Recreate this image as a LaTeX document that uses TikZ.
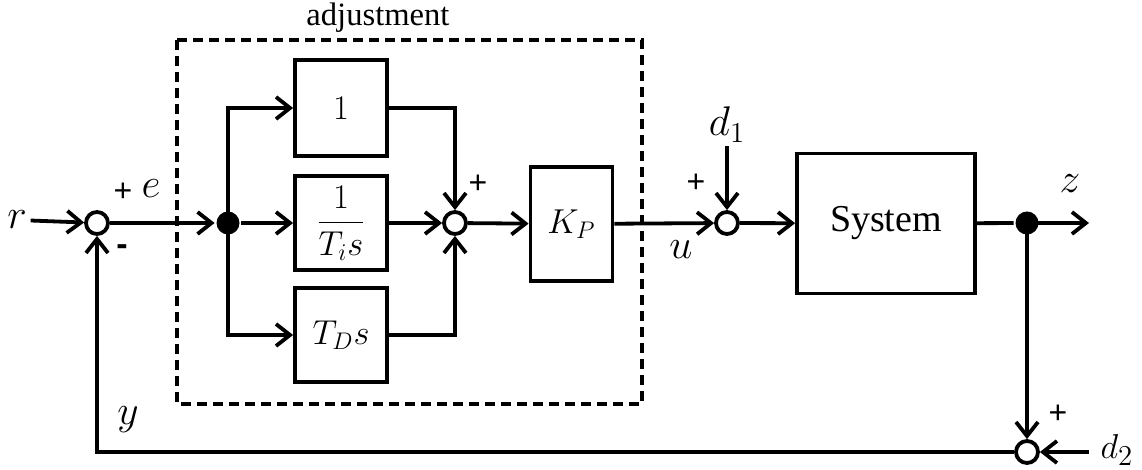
\documentclass[tikz,border=0pt]{standalone}
\usepackage{fontspec}
\usetikzlibrary{arrows.meta}
\newfontfamily\timesf{Liberation Serif}
\newfontfamily\arialf{Liberation Sans}
\begin{document}
\begin{tikzpicture}[x=0.5pt,y=-0.5pt,
  line width=1.9pt,
  arr/.style={-{Straight Barb[length=7pt,width=11pt,line width=1.9pt]}},
  blk/.style={draw,rectangle,inner sep=0pt,font=\LARGE},
  sumc/.style={draw,circle,minimum size=11pt,inner sep=0pt,fill=white},
  dotc/.style={circle,fill=black,minimum size=11.5pt,inner sep=0pt},
  lbl/.style={font=\huge,inner sep=1pt},
  sgn/.style={font=\arialf\fontsize{16}{16}\selectfont,inner sep=0pt},
  dashbox/.style={draw,dash pattern=on 5pt off 3pt,line width=1.7pt}]
\useasboundingbox (0,0) rectangle (1142,470);
% dashed adjustment box
\draw[dashbox] (177,40) rectangle (642,404);
\node[font=\timesf\fontsize{16.3}{18}\selectfont] (adj) at (378,18) {adjustment};
% nodes
\node[lbl] (r) at (17,220) {$r$};
\node[sumc] (s1) at (97,223) {};
\node[dotc] (b1) at (228,223) {};
\node[blk,minimum width=46pt,minimum height=48pt] (p) at (341,108) {$1$};
\node[blk,minimum width=46pt,minimum height=47pt] (i) at (341,223) {$\displaystyle\frac{1}{T_i s}$};
\node[blk,minimum width=46pt,minimum height=47pt] (d) at (341,335) {$T_D s$};
\node[sumc] (s2) at (455,223) {};
\node[blk,minimum width=41pt,minimum height=57pt] (kp) at (571.5,224) {$K_P$};
\node[sumc] (s3) at (727,223) {};
\node[lbl,anchor=south] (d1) at (727,146) {$d_1$};
\node[draw,rectangle,minimum width=89pt,minimum height=70pt,font=\timesf\fontsize{19}{21}\selectfont] (sys) at (886,223.5) {System};
\node[dotc] (b2) at (1027,223) {};
\coordinate (zend) at (1089,223);
\node[lbl] (z) at (1070,184) {$z$};
\node[sumc] (s4) at (1027,452) {};
\node[font=\fontsize{19}{20}\selectfont,inner sep=0pt,inner xsep=5pt] (d2) at (1117,450) {$d_2$};
\node[lbl] (y) at (128,420) {$y$};
\node[lbl] (e) at (151,189) {$e$};
\node[lbl] (u) at (681,250) {$u$};
% signs
\node[sgn] (pl1) at (123,192) {+};
\node[sgn,font=\arialf\bfseries\fontsize{17}{17}\selectfont] (mi1) at (122,250) {-};
\node[sgn] (pl2) at (478,184) {+};
\node[sgn] (pl3) at (696,183) {+};
\node[sgn] (pl4) at (1058,414) {+};
% connectors
\draw[arr] (r) -- (s1);
\draw[arr] (s1) -- (b1);
\draw[arr] (b1.center) |- (p.west);
\draw[arr] (b1.center) |- (d.west);
\draw[arr] (b1) -- (i);
\draw[arr] (p.east) -| (s2.north);
\draw[arr] (d.east) -| (s2.south);
\draw[arr] (i) -- (s2);
\draw[arr] (s2) -- (kp);
\draw[arr] (kp) -- (s3);
\draw[arr] (d1) -- (s3);
\draw[arr] (s3) -- (sys);
\draw (sys) -- (b2);
\draw[arr] (b2.center) -- (zend);
\draw[arr] (b2.center) -- (s4.north);
\draw[arr] (d2.west |- s4) -- (s4);
\draw[arr] (s4.west) -| (s1.south);
\end{tikzpicture}
\end{document}
